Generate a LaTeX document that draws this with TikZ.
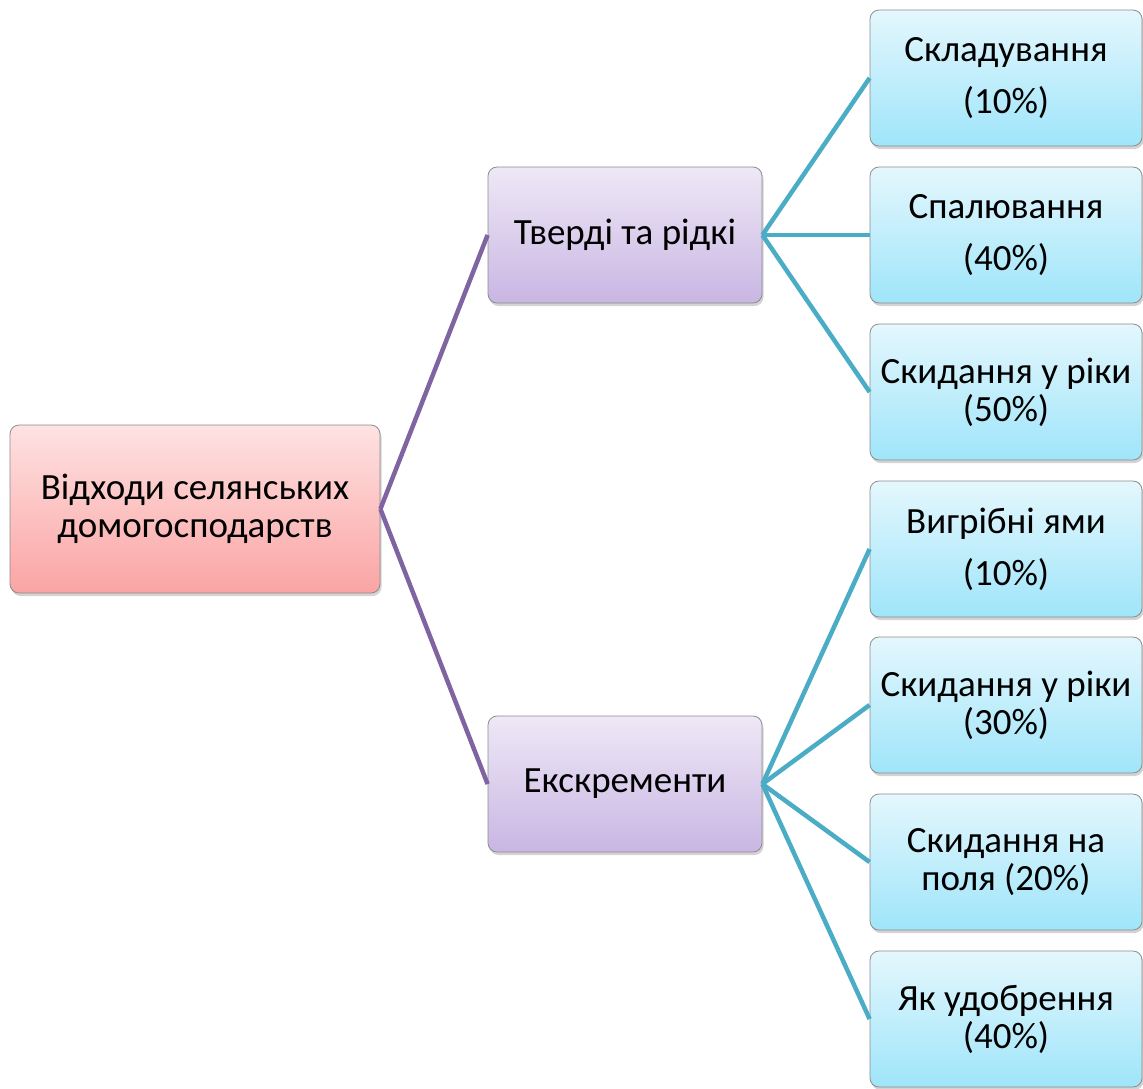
\documentclass[tikz,border=0pt]{standalone}
\usepackage{fontspec}
\setmainfont{Carlito}
\usetikzlibrary{shadows}
\definecolor{pinkT}{HTML}{FEE2E2}
\definecolor{pinkB}{HTML}{FBA4A4}
\definecolor{purT}{HTML}{EEE8F6}
\definecolor{purB}{HTML}{C9B6E3}
\definecolor{bluT}{HTML}{E4F7FD}
\definecolor{bluB}{HTML}{9FE5FA}
\definecolor{purLine}{HTML}{8064A2}
\definecolor{tealLine}{HTML}{4BACC6}
\definecolor{edgeC}{HTML}{8C8C8C}
\tikzset{
  box/.style={rectangle, rounded corners=9pt, draw=edgeC, line width=0.8pt,
    align=center, font=\fontsize{37}{38}\selectfont, inner sep=2pt,
    drop shadow={opacity=0.35, shadow xshift=1.5pt, shadow yshift=-3pt}},
  rootbox/.style={box, top color=pinkT, bottom color=pinkB, minimum width=370pt, minimum height=168pt},
  midbox/.style={box, top color=purT, bottom color=purB, minimum width=274pt, minimum height=136pt},
  leafbox/.style={box, top color=bluT, bottom color=bluB, minimum width=272pt, minimum height=136pt},
  purconn/.style={draw=purLine, line width=4.5pt},
  tealconn/.style={draw=tealLine, line width=4.5pt}
}
\begin{document}
\begin{tikzpicture}[x=1pt,y=1pt]
\useasboundingbox (0,0) rectangle (1143,-1088);
\node[rootbox] (root) at (195,-509) {Відходи селянських\\домогосподарств};
\node[midbox] (m1) at (625,-235) {Тверді та рідкі};
\node[midbox] (m2) at (625,-784) {Екскременти};
\node[leafbox] (l1) at (1006,-78) {Складування\\[14pt](10\%)};
\node[leafbox] (l2) at (1006,-235) {Спалювання\\[14pt](40\%)};
\node[leafbox] (l3) at (1006,-392) {Скидання у ріки\\(50\%)};
\node[leafbox] (l4) at (1006,-549) {Вигрібні ями\\[14pt](10\%)};
\node[leafbox] (l5) at (1006,-705) {Скидання у ріки\\(30\%)};
\node[leafbox] (l6) at (1006,-862) {Скидання на\\поля (20\%)};
\node[leafbox] (l7) at (1006,-1019) {Як удобрення\\(40\%)};
\draw[purconn] (root.east) -- (m1.west);
\draw[purconn] (root.east) -- (m2.west);
\foreach \n in {l1,l2,l3}{\draw[tealconn] (m1.east) -- (\n.west);}
\foreach \n in {l4,l5,l6,l7}{\draw[tealconn] (m2.east) -- (\n.west);}
\end{tikzpicture}
\end{document}
